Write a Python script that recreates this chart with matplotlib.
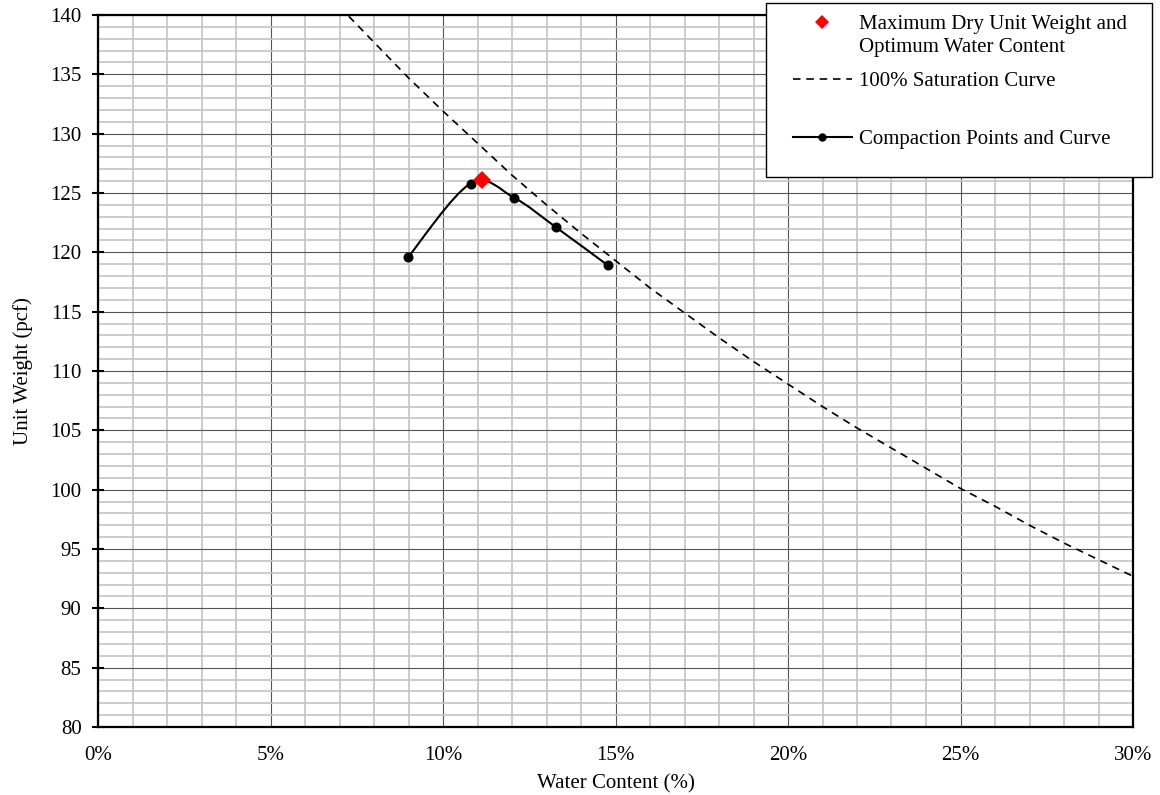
import numpy as np
import matplotlib
matplotlib.use("Agg")
import matplotlib.pyplot as plt
from matplotlib.path import Path
from matplotlib.patches import PathPatch, Rectangle
from matplotlib.lines import Line2D
from matplotlib.ticker import MultipleLocator, FuncFormatter

# Compaction test results
water_content = [0.0899, 0.1080, 0.1206, 0.1328, 0.1478]
dry_unit_weight = [119.6, 125.8, 124.6, 122.1, 118.9]

# Maximum dry unit weight / optimum water content
opt_water = [0.1112]
max_dry_weight = [126.1]

# Zero-air-voids (100% saturation) curve
sat_water = [0.07, 0.08, 0.09, 0.10, 0.11, 0.12, 0.13, 0.14, 0.15, 0.16, 0.17,
             0.18, 0.19, 0.20, 0.21, 0.22, 0.23, 0.24, 0.25, 0.26, 0.27, 0.28,
             0.29, 0.30]
sat_weight = [140.7, 137.7, 134.7, 131.9, 129.2, 126.5, 124.0, 121.6, 119.3,
              117.0, 114.9, 112.8, 110.8, 108.9, 107.0, 105.2, 103.5, 101.8,
              100.1, 98.6, 97.0, 95.5, 94.1, 92.7]

legend_labels = ["Maximum Dry Unit Weight and\nOptimum Water Content",
                 "100% Saturation Curve",
                 "Compaction Points and Curve"]

plt.rcParams["font.family"] = ["Liberation Serif", "DejaVu Serif"]
FS = 15

fig = plt.figure(figsize=(11.6, 7.95), dpi=100)
ax = fig.add_axes([98 / 1160, 68 / 795, 1035 / 1160, 712 / 795])

ax.set_xlim(0, 0.30)
ax.set_ylim(80, 140)

ax.xaxis.set_major_locator(MultipleLocator(0.05))
ax.xaxis.set_minor_locator(MultipleLocator(0.01))
ax.yaxis.set_major_locator(MultipleLocator(5))
ax.yaxis.set_minor_locator(MultipleLocator(1))
ax.xaxis.set_major_formatter(FuncFormatter(lambda v, p: f"{v * 100:.0f}%"))

ax.grid(which="minor", color="#c4c4c4", linewidth=1.2)
ax.grid(which="major", color="#555555", linewidth=0.8)
ax.set_axisbelow(True)

for s in ax.spines.values():
    s.set_color("black")
    s.set_linewidth(1.6)

ax.tick_params(axis="x", which="both", length=0, labelsize=FS, pad=13.5)
ax.tick_params(axis="y", which="major", direction="inout", length=8.6,
               width=1.5, labelsize=FS, pad=7.5)
ax.tick_params(axis="y", which="minor", length=0)

ax.set_xlabel("Water Content (%)", fontsize=FS, labelpad=7)
ax.set_ylabel("Unit Weight (pcf)", fontsize=FS, labelpad=12.5)

# Saturation curve
ax.plot(sat_water, sat_weight, color="black", linewidth=1.2,
        linestyle=(0, (4.5, 3.5)), clip_on=True)


def smooth_path(xs, ys):
    """Catmull-Rom style cubic Bezier through the points."""
    pts = np.column_stack([xs, ys])
    n = len(pts)
    verts = [pts[0]]
    codes = [Path.MOVETO]
    for i in range(n - 1):
        p0 = pts[i - 1] if i > 0 else pts[i]
        p1 = pts[i]
        p2 = pts[i + 1]
        p3 = pts[i + 2] if i + 2 < n else pts[i + 1]
        c1 = p1 + (p2 - p0) / 6.0
        c2 = p2 - (p3 - p1) / 6.0
        verts += [c1, c2, p2]
        codes += [Path.CURVE4] * 3
    return Path(verts, codes)


ax.add_patch(PathPatch(smooth_path(water_content, dry_unit_weight),
                       facecolor="none", edgecolor="black", linewidth=1.5,
                       zorder=3))
ax.plot(water_content, dry_unit_weight, linestyle="none", marker="o",
        markersize=6.2, color="black", zorder=4)
ax.plot(opt_water, max_dry_weight, linestyle="none", marker="D",
        markersize=8.8, color="#ff0000", markeredgewidth=0, zorder=5)

# Legend box in figure pixels
W, H = 1160, 795


def fx(px):
    return px / W


def fy(py):
    return 1 - py / H


fig.patches.append(Rectangle((fx(766), fy(177)), fx(1152) - fx(766),
                             fy(3) - fy(177), transform=fig.transFigure,
                             facecolor="white", edgecolor="black",
                             linewidth=1.0, zorder=10))
fig.lines.append(Line2D([fx(822)], [fy(22)], transform=fig.transFigure,
                        marker="D", markersize=6.8, color="#ff0000",
                        markeredgewidth=0, linestyle="none", zorder=11))
fig.lines.append(Line2D([fx(793), fx(852)], [fy(79), fy(79)],
                        transform=fig.transFigure, color="black",
                        linewidth=1.2, linestyle=(0, (4.5, 3.5)), zorder=11))
fig.lines.append(Line2D([fx(793), fx(852)], [fy(137), fy(137)],
                        transform=fig.transFigure, color="black",
                        linewidth=1.5, zorder=11))
fig.lines.append(Line2D([fx(822)], [fy(137)], transform=fig.transFigure,
                        marker="o", markersize=5, color="black",
                        linestyle="none", zorder=11))
fig.text(fx(859), fy(36), legend_labels[0], fontsize=FS, va="center",
         ha="left", linespacing=1.26, zorder=12)
fig.text(fx(859), fy(81.5), legend_labels[1], fontsize=FS, va="center",
         ha="left", zorder=12)
fig.text(fx(859), fy(139.5), legend_labels[2], fontsize=FS, va="center",
         ha="left", zorder=12)

fig.savefig("out.png", dpi=100)
